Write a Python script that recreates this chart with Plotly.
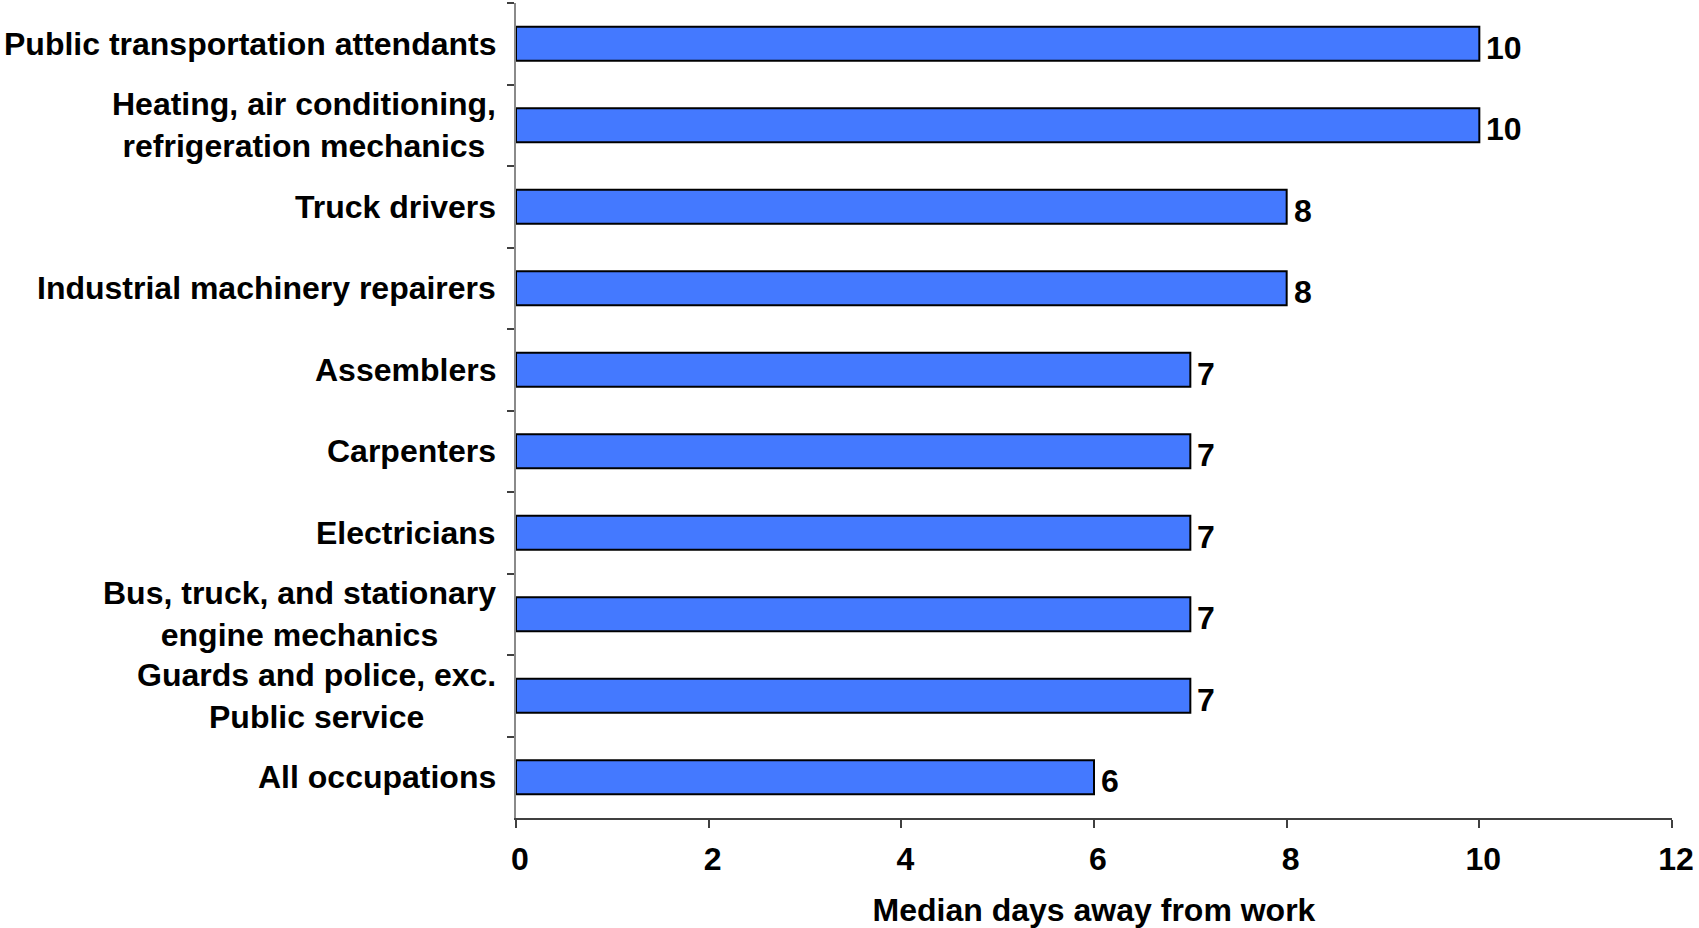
import plotly.graph_objects as go

# Occupations, top to bottom, and their median days away from work
occupations = [
    "Public transportation attendants",
    "Heating, air conditioning,<br>refrigeration mechanics",
    "Truck drivers",
    "Industrial machinery repairers",
    "Assemblers",
    "Carpenters",
    "Electricians",
    "Bus, truck, and stationary<br>engine mechanics",
    "Guards and police, exc.<br>Public service",
    "All occupations",
]
median_days = [10, 10, 8, 8, 7, 7, 7, 7, 7, 6]
x_ticks = [0, 2, 4, 6, 8, 10, 12]

FONT = "Liberation Sans, Arial, sans-serif"
SIZE = 32

fig = go.Figure(
    go.Bar(
        x=median_days,
        y=occupations,
        orientation="h",
        marker=dict(color="#4479FF", line=dict(color="#000000", width=2)),
        hoverinfo="x+y",
    )
)

# Value labels just past the end of each bar
for occ, v in zip(occupations, median_days):
    fig.add_annotation(
        x=v, xref="x", xanchor="left", xshift=5,
        y=occ, yref="y", yanchor="middle", yshift=-4,
        text=f"<b>{v}</b>", showarrow=False,
        font=dict(family=FONT, size=SIZE, color="#000000"),
    )

# Category labels, each line centred, right edge set against the axis
for occ in occupations:
    fig.add_annotation(
        x=0, xref="paper", xanchor="right", xshift=-18,
        y=occ, yref="y", yanchor="middle",
        text=f"<b>{occ}</b>", showarrow=False, align="center",
        font=dict(family=FONT, size=SIZE, color="#000000"),
    )

fig.update_layout(
    width=1699, height=928,
    margin=dict(l=516, r=27, t=3, b=110),
    paper_bgcolor="white", plot_bgcolor="white",
    bargap=0.58,
    showlegend=False,
    font=dict(family=FONT, size=SIZE, color="#000000"),
)

fig.update_xaxes(
    range=[0, 12],
    tickvals=x_ticks,
    ticktext=[f"<b>{t}</b>" for t in x_ticks],
    showgrid=False, zeroline=False,
    showline=True, linecolor="#404040", linewidth=1.5,
    ticks="outside", ticklen=8, tickcolor="#404040", tickwidth=1.5,
    ticklabelstandoff=4, ticklabelshift=4,
    tickfont=dict(family=FONT, size=SIZE, color="#000000"),
    title=dict(text="<b>Median days away from work</b>", standoff=24,
               font=dict(family=FONT, size=SIZE, color="#000000")),
)

fig.update_yaxes(
    type="category",
    categoryorder="array", categoryarray=occupations,
    autorange="reversed",
    showticklabels=False,
    showgrid=False, zeroline=False,
    showline=True, linecolor="#8a8a8a", linewidth=2,
    ticks="outside", tickson="boundaries", ticklen=7,
    tickcolor="#404040", tickwidth=1.5,
)

fig.write_html("out.html")
